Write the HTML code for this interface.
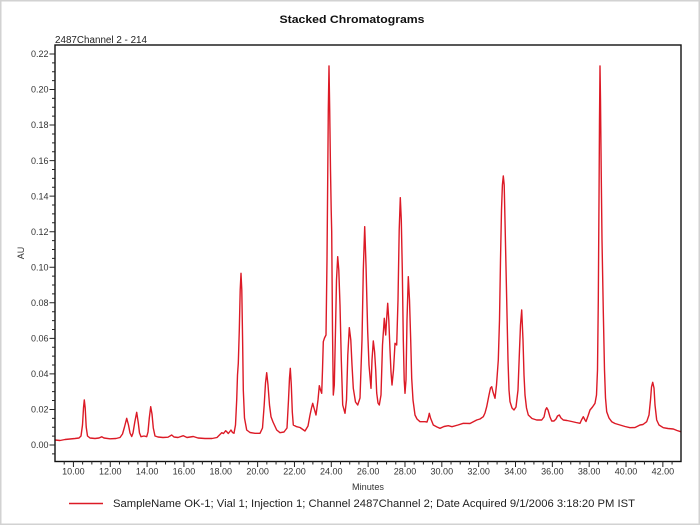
<!DOCTYPE html>
<html><head><meta charset="utf-8"><style>
html,body{margin:0;padding:0;background:#fff;}
svg{display:block;}
text{font-family:"Liberation Sans",Arial,sans-serif;}
</style></head><body>
<svg width="700" height="525" viewBox="0 0 700 525" xmlns="http://www.w3.org/2000/svg">
<rect x="0" y="0" width="700" height="525" fill="#fff"/>
<rect x="0.75" y="0.75" width="698.5" height="523.5" fill="none" stroke="#d2d2d2" stroke-width="1.5"/>

<text x="352" y="23" font-size="11.3" font-weight="bold" fill="#111" text-anchor="middle" textLength="145" lengthAdjust="spacingAndGlyphs">Stacked Chromatograms</text>
<text x="55" y="43" font-size="9.8" fill="#222" textLength="92" lengthAdjust="spacingAndGlyphs">2487Channel 2 - 214</text>

<!-- trace -->
<polyline fill="none" stroke="#dc1a26" stroke-width="1.4" stroke-linejoin="round" stroke-linecap="round" points="
55,440 60,440.5 65,439.5 70,439 75,438.5 79,438 81,436 82.5,425 83.5,408 84.3,400 85.2,408 86.2,427 87.5,436 90,438 95,438.5 99,438 101.7,436.8 104,438 110,438.8 116,438.5 120,437.5 122.5,434 124.5,427 126.7,418.3 128.5,425 130,433 131.7,436.5 133,433 134.8,422 136.7,412.3 138.3,423 139.5,433 141,436.7 144,436 146.7,436.7 148,432 149.3,418 150.7,406.7 152,414 153.3,428 155,436 158,437 163,437.5 168,437.2 171.7,435 174,437 178,437.5 183.3,435.7 187,437.5 193.3,436.5 198,438 205,438.5 212,438.5 217,437.5 221.7,432.7 223.5,433.5 225.7,430.7 227,432 228.3,433.5 229.5,432 231,430 232.5,432.5 234,433.3 235.5,425 236.7,400 237.5,375 238.3,363.3 239.3,330 240.2,290 241,273.3 241.8,290 242.6,340 243.3,390 244.5,418 246.7,430 250,432.5 255,433.3 260,433.3 262.5,428 264.2,405 265.5,383 266.7,372.7 268,385 269.5,405 271,416.7 273,422 276.7,430 280,432.7 284,432 287,428 288.5,400 289.5,378 290.3,368.3 291.3,385 292.3,412 293.3,425 296.7,426.7 300,427.5 305,431 308,426 310,415 311.5,408 312.7,403.3 314,408 316,415 318,400 319.3,385.7 320.5,390 321.7,393.3 322.5,370 323.3,341.7 324.5,338 326,335 327,260 327.7,180 328.3,110 329,66 329.7,110 330.5,170 331.2,210 331.7,231.7 332.5,330 333.3,395 334.3,385 335.5,330 336.5,280 337.7,256.7 338.8,270 340,305 341.3,360 342.7,405 345,413.3 346.5,400 347.8,355 349.3,327.7 350.8,340 352,365 353.3,388.3 355.5,402 357.7,405 360,398 362,340 363.3,270 364.7,226.7 366,265 367,305 367.7,331.7 369,365 371,388.3 372,360 373.3,341 374.6,352 375.7,370 376.7,393 378,403 379.3,405 381,395 382.5,345 384.3,318.3 385.7,335 386.7,318 387.7,303.3 388.8,320 390,350 391,372 392,385 393.5,370 395,343.3 396.7,345 398,300 399.2,230 400.3,197.7 401.3,220 402.3,270 403.3,340 404.2,380 405,393.3 406,380 407,320 408.3,276.7 409.5,300 410.7,340 411.7,378.3 413,400 415,415 417,419 420,421.7 425,421.7 427,422 428.3,418 429.3,413.3 430.5,418 433.3,425 437,427 440,428.3 444,426.5 448.3,425.7 452,426.7 458,425 463.3,423.3 470,423.5 476.7,420 480,419 483.3,416.7 485,413 486.7,406.7 489,395 490.5,388 491.7,386.7 493,392 495,398.3 496.5,385 498.3,360 499.5,320 500.5,260 501.5,210 502.4,185 503.3,176 504.2,185 505.2,230 506.7,300 508,360 509,390 510,401.7 512,408 514,410 516,407 518,390 519.5,350 520.5,325 521.7,310 523,340 524,375 525,395 526.5,408 528.3,415 532,418.5 536.7,420 541.7,420 544,417 545.5,410 546.7,407.7 548,410 550,417 551.7,421 554,421 556,419 557.5,416 559.3,415 561,418 563.3,420 567,420.5 571.7,421.5 576,422.5 580,423.3 581.5,420 583.3,416.7 585,420 586,421.5 588,416 590,410 592.5,407 595,403.3 596.5,395 597.5,370 598.3,300 599,200 599.5,120 600,66 600.5,100 601.2,170 602,240 603.3,311.7 604.5,370 605.5,398 606.7,411.7 609,418 611.7,421.7 615,423.5 620,425 625,426.5 630,427.7 635,427.5 640,425 643,424.5 646.7,421.7 649,415 650.5,400 651.5,387 652.7,382.3 654,388 655,405 656.7,420 659,425 663.3,427.7 668,428.5 673.3,429 677,430.5 680.7,431.7"/>

<!-- plot frame -->
<rect x="55" y="45" width="626" height="416.5" fill="none" stroke="#111" stroke-width="1.4"/>

<!-- y ticks -->
<path stroke="#222" stroke-width="1" fill="none" d="
M49.5,445H55 M49.5,409.45H55 M49.5,373.9H55 M49.5,338.35H55 M49.5,302.8H55 M49.5,267.25H55 M49.5,231.7H55 M49.5,196.15H55 M49.5,160.6H55 M49.5,125.05H55 M49.5,89.5H55 M49.5,53.95H55
M52,453.89H55 M52,436.11H55 M52,427.23H55 M52,418.34H55 M52,400.56H55 M52,391.68H55 M52,382.79H55 M52,365.01H55 M52,356.13H55 M52,347.24H55 M52,329.46H55 M52,320.58H55 M52,311.69H55 M52,293.91H55 M52,285.03H55 M52,276.14H55 M52,258.36H55 M52,249.48H55 M52,240.59H55 M52,222.81H55 M52,213.93H55 M52,205.04H55 M52,187.26H55 M52,178.38H55 M52,169.49H55 M52,151.71H55 M52,142.83H55 M52,133.94H55 M52,116.16H55 M52,107.28H55 M52,98.39H55 M52,80.61H55 M52,71.73H55 M52,62.84H55"/>

<!-- x ticks -->
<path stroke="#222" stroke-width="1" fill="none" d="
M73.42,461V467 M110.26,461V467 M147.1,461V467 M183.94,461V467 M220.78,461V467 M257.62,461V467 M294.46,461V467 M331.3,461V467 M368.14,461V467 M404.98,461V467 M441.82,461V467 M478.66,461V467 M515.5,461V467 M552.34,461V467 M589.18,461V467 M626.02,461V467 M662.86,461V467
M64.21,461V464.5 M82.63,461V464.5 M91.84,461V464.5 M101.05,461V464.5 M119.47,461V464.5 M128.68,461V464.5 M137.89,461V464.5 M156.31,461V464.5 M165.52,461V464.5 M174.73,461V464.5 M193.15,461V464.5 M202.36,461V464.5 M211.57,461V464.5 M229.99,461V464.5 M239.2,461V464.5 M248.41,461V464.5 M266.83,461V464.5 M276.04,461V464.5 M285.25,461V464.5 M303.67,461V464.5 M312.88,461V464.5 M322.09,461V464.5 M340.51,461V464.5 M349.72,461V464.5 M358.93,461V464.5 M377.35,461V464.5 M386.56,461V464.5 M395.77,461V464.5 M414.19,461V464.5 M423.4,461V464.5 M432.61,461V464.5 M451.03,461V464.5 M460.24,461V464.5 M469.45,461V464.5 M487.87,461V464.5 M497.08,461V464.5 M506.29,461V464.5 M524.71,461V464.5 M533.92,461V464.5 M543.13,461V464.5 M561.55,461V464.5 M570.76,461V464.5 M579.97,461V464.5 M598.39,461V464.5 M607.6,461V464.5 M616.81,461V464.5 M635.23,461V464.5 M644.44,461V464.5 M653.65,461V464.5 M672.07,461V464.5"/>

<!-- y labels -->
<g font-size="9" fill="#333" text-anchor="end">
<text x="48.5" y="448.2">0.00</text>
<text x="48.5" y="412.6">0.02</text>
<text x="48.5" y="377.1">0.04</text>
<text x="48.5" y="341.5">0.06</text>
<text x="48.5" y="306">0.08</text>
<text x="48.5" y="270.4">0.10</text>
<text x="48.5" y="234.9">0.12</text>
<text x="48.5" y="199.3">0.14</text>
<text x="48.5" y="163.8">0.16</text>
<text x="48.5" y="128.2">0.18</text>
<text x="48.5" y="92.7">0.20</text>
<text x="48.5" y="57.1">0.22</text>
</g>

<!-- x labels -->
<g font-size="9" fill="#333" text-anchor="middle">
<text x="73.42" y="474.5">10.00</text>
<text x="110.26" y="474.5">12.00</text>
<text x="147.1" y="474.5">14.00</text>
<text x="183.94" y="474.5">16.00</text>
<text x="220.78" y="474.5">18.00</text>
<text x="257.62" y="474.5">20.00</text>
<text x="294.46" y="474.5">22.00</text>
<text x="331.3" y="474.5">24.00</text>
<text x="368.14" y="474.5">26.00</text>
<text x="404.98" y="474.5">28.00</text>
<text x="441.82" y="474.5">30.00</text>
<text x="478.66" y="474.5">32.00</text>
<text x="515.5" y="474.5">34.00</text>
<text x="552.34" y="474.5">36.00</text>
<text x="589.18" y="474.5">38.00</text>
<text x="626.02" y="474.5">40.00</text>
<text x="662.86" y="474.5">42.00</text>
</g>

<text x="352" y="490" font-size="9" fill="#333" textLength="32" lengthAdjust="spacingAndGlyphs">Minutes</text>
<text transform="translate(24,253) rotate(-90)" font-size="9" fill="#333" text-anchor="middle">AU</text>

<!-- legend -->
<line x1="69" y1="503.5" x2="103" y2="503.5" stroke="#dc1a26" stroke-width="1.4"/>
<text x="113" y="507" font-size="11" fill="#222" textLength="522" lengthAdjust="spacingAndGlyphs">SampleName OK-1; Vial 1; Injection 1; Channel 2487Channel 2; Date Acquired 9/1/2006 3:18:20 PM IST</text>
</svg>
</body></html>
